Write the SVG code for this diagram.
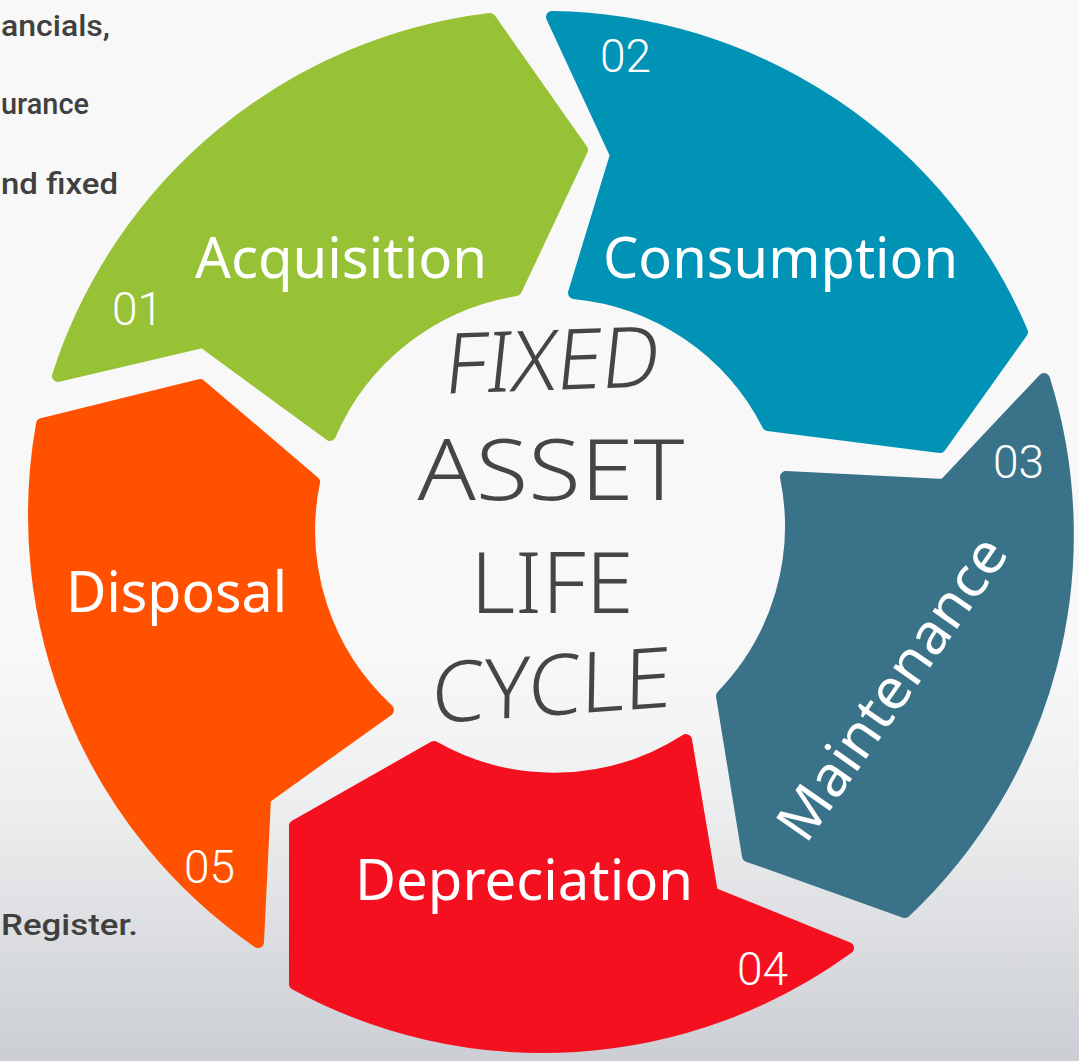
<svg xmlns="http://www.w3.org/2000/svg" width="1079" height="1061" viewBox="0 0 1079 1061">
<defs>
<linearGradient id="bg" x1="0" y1="0" x2="0" y2="1">
<stop offset="0" stop-color="#f8f8f8"/>
<stop offset="0.62" stop-color="#f8f8f8"/>
<stop offset="0.75" stop-color="#eeeff0"/>
<stop offset="1" stop-color="#cbced3"/>
</linearGradient>
</defs>
<style>
.seg{stroke-width:12;stroke-linejoin:round}
.lbl{font-family:"Noto Sans","Open Sans","Liberation Sans",sans-serif;fill:#ffffff;font-size:56px}
.num{font-family:Roboto,"Liberation Sans",sans-serif;font-weight:300;fill:#ffffff;font-size:46px}
.side{font-family:Roboto,"Liberation Sans",sans-serif;font-weight:500;fill:#404040;font-size:30px}
.ctr{font-family:"Noto Sans","Open Sans","Liberation Sans",sans-serif;font-weight:300;fill:#454545;font-size:84px;text-anchor:middle}
</style>
<rect x="0" y="0" width="1079" height="1061" fill="url(#bg)"/>
<g id="side-text">
<text class="side" x="1" y="36" textLength="109" lengthAdjust="spacingAndGlyphs">ancials,</text>
<text class="side" x="1" y="114" textLength="88" lengthAdjust="spacingAndGlyphs">urance</text>
<text class="side" x="1" y="194" textLength="117" lengthAdjust="spacingAndGlyphs">nd fixed</text>
<text class="side" x="1" y="935" textLength="137" lengthAdjust="spacingAndGlyphs">Register.</text>
</g>
<g id="connectors"/>
<g id="node-acquisition">
<path class="seg" fill="#97c236" stroke="#97c236" d="M58,376 A519,519 0 0 1 490,19 L582,150 L516,290 A244,244 0 0 0 330,435 L203,342 Z"/>
<text class="lbl" x="195" y="278" textLength="292" lengthAdjust="spacingAndGlyphs">Acquisition</text>
<text class="num" x="112" y="325">01</text>
</g>
<g id="node-consumption">
<path class="seg" fill="#0093b5" stroke="#0093b5" d="M552,17 A519,519 0 0 1 1022,332 L940,447 L768,425 A244,244 0 0 0 574,293 L616,155 Z"/>
<text class="lbl" x="603" y="278" textLength="355" lengthAdjust="spacingAndGlyphs">Consumption</text>
<text class="num" x="600" y="72">02</text>
</g>
<g id="node-maintenance">
<path class="seg" fill="#3a7389" stroke="#3a7389" d="M1044,379 A519,519 0 0 1 905,912 L748,856 L722,696 A244,244 0 0 0 786,477 L944,485 Z"/>
<text class="lbl" transform="translate(893,689) rotate(-55)" x="0" y="18" text-anchor="middle" textLength="356" lengthAdjust="spacingAndGlyphs">Maintenance</text>
<text class="num" x="993" y="478">03</text>
</g>
<g id="node-depreciation">
<path class="seg" fill="#f51020" stroke="#f51020" d="M295,826 L434,747 A244,244 0 0 0 686,740 L712,893 L848,948 A519,519 0 0 1 295,984 Z"/>
<text class="lbl" x="355" y="900" textLength="338" lengthAdjust="spacingAndGlyphs">Depreciation</text>
<text class="num" x="737" y="985">04</text>
</g>
<g id="node-disposal">
<path class="seg" fill="#ff5100" stroke="#ff5100" d="M42,424 L200,385 L314,482 A244,244 0 0 0 388,710 L265,798 L258,942 A519,519 0 0 1 42,424 Z"/>
<text class="lbl" x="66" y="612" textLength="221" lengthAdjust="spacingAndGlyphs">Disposal</text>
<text class="num" x="184" y="883">05</text>
</g>
<g id="center-title">
<text class="ctr" transform="translate(550,390) rotate(-2) skewX(-8)" x="0" y="0" textLength="215" lengthAdjust="spacingAndGlyphs">FIXED</text>
<text class="ctr" x="551" y="500" textLength="267" lengthAdjust="spacingAndGlyphs">ASSET</text>
<text class="ctr" x="552" y="613" textLength="163" lengthAdjust="spacingAndGlyphs">LIFE</text>
<text class="ctr" transform="translate(551,715) rotate(-4) skewX(-5)" x="0" y="0" textLength="240" lengthAdjust="spacingAndGlyphs">CYCLE</text>
</g>
</svg>
